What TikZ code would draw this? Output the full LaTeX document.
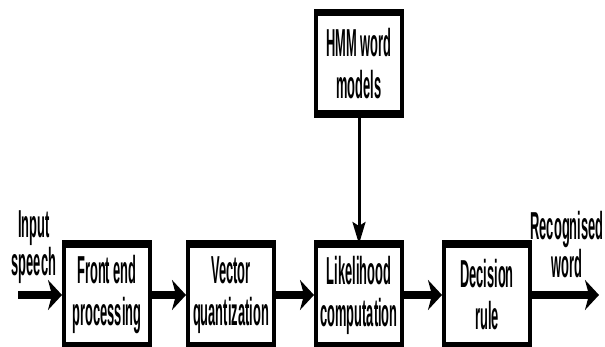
\documentclass[tikz,border=0pt]{standalone}
\usepackage{fontspec}
\setmainfont[FakeStretch=0.33]{Liberation Sans}
\usepackage{tikz}
\usetikzlibrary{arrows.meta,positioning}
\tikzset{
  % processing block
  blk/.style={rectangle, draw=black, line width=2pt, fill=white, align=center,
              minimum width=43pt, minimum height=49pt, inner sep=1pt,
              font=\fontsize{19.5}{21}\selectfont\bfseries},
  % thick top and bottom edge of a block
  hbar/.style={line width=3.6pt, line cap=butt},
  % free text label
  lbl/.style={align=center, inner sep=0pt, font=\fontsize{19.5}{19}\selectfont\bfseries},
  % main signal path
  sigarrow/.style={-{Stealth[length=7pt,width=15pt,inset=2pt]}, line width=3.8pt},
  % model input
  modarrow/.style={-{Stealth[length=11pt,width=6.5pt,inset=2pt]}, line width=1.5pt},
}
\begin{document}
\begin{tikzpicture}[x=0.5pt, y=0.5pt]
  \useasboundingbox (0,0) rectangle (605,347);

  % blocks
  \node[blk] (fe) at (107,52) {Front end\\processing};
  \node[blk] (vq) at (231,52) {Vector\\quantization};
  \node[blk] (lc) at (359,52) {Likelihood\\computation};
  \node[blk] (dr) at (487,52) {Decision\\rule};
  \node[blk] (hmm) at (359,283.5) {HMM word\\models};

  \foreach \n in {fe,vq,lc,dr,hmm}
    \draw[hbar] (\n.north west) -- (\n.north east) (\n.south west) -- (\n.south east);

  % in / out
  \coordinate (src) at (18,52);
  \coordinate (snk) at (599,52);
  \node[lbl] (inlbl) at (34,100) {Input\\speech};
  \node[lbl] (outlbl) at (567,102) {Recognised\\word};

  % connectors
  \draw[sigarrow] (src) -- (fe);
  \draw[sigarrow] (fe) -- (vq);
  \draw[sigarrow] (vq) -- (lc);
  \draw[sigarrow] (lc) -- (dr);
  \draw[sigarrow] (dr) -- (snk);
  \draw[modarrow] (hmm) -- (lc);

\end{tikzpicture}
\end{document}
